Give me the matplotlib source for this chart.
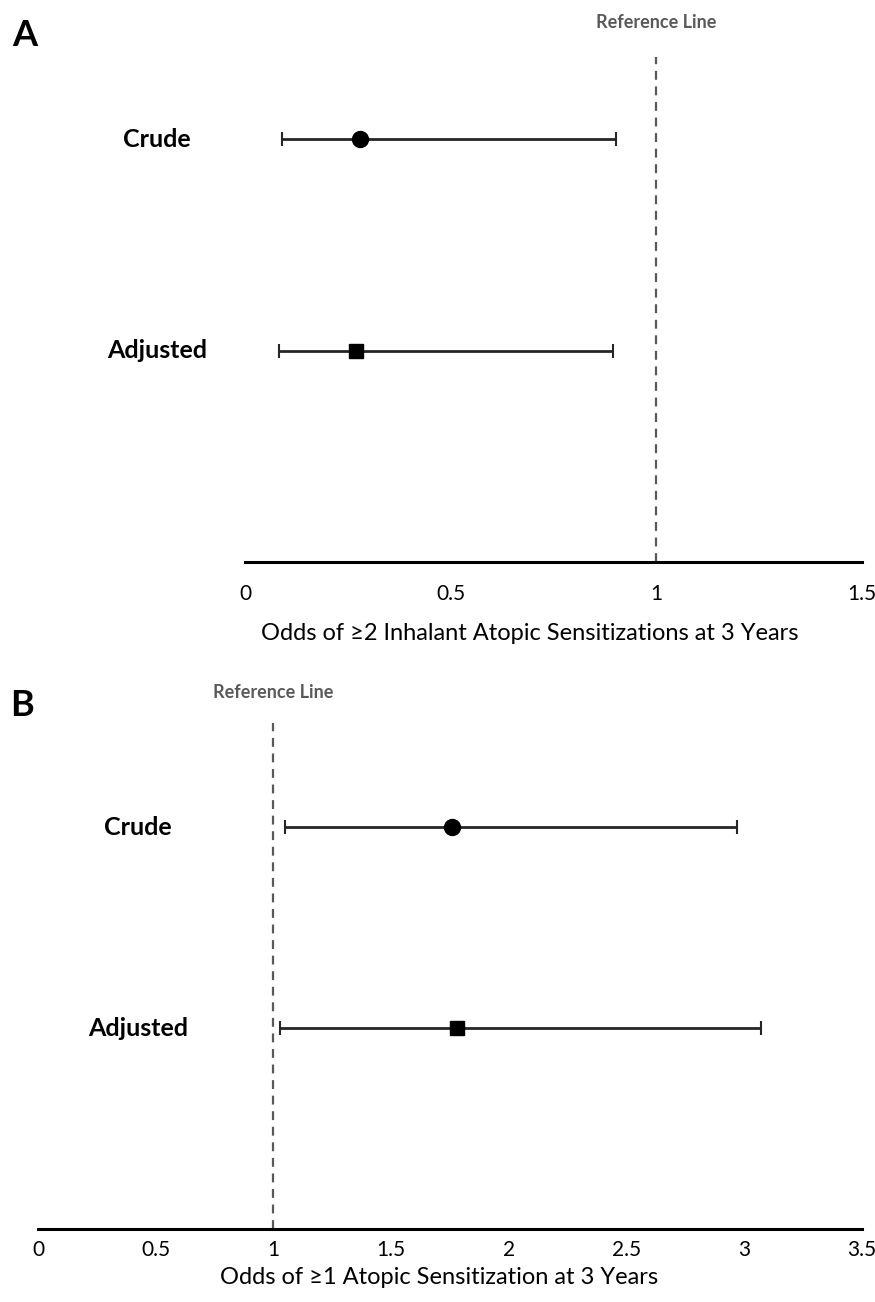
import matplotlib
matplotlib.use("Agg")
import matplotlib.pyplot as plt

plt.rcParams["font.family"] = ["Lato", "DejaVu Sans"]

# Panel A: odds of >=2 inhalant atopic sensitizations
labels = ["Crude", "Adjusted"]
a_or = [0.28, 0.27]
a_lo = [0.09, 0.082]
a_hi = [0.903, 0.894]

# Panel B: odds of >=1 atopic sensitization
b_or = [1.76, 1.78]
b_lo = [1.05, 1.03]
b_hi = [2.97, 3.07]

a_ticks = [0, 0.5, 1, 1.5]
a_ticklabels = ["0", "0.5", "1", "1.5"]
b_ticks = [0, 0.5, 1, 1.5, 2, 2.5, 3, 3.5]
b_ticklabels = ["0", "0.5", "1", "1.5", "2", "2.5", "3", "3.5"]
ref_value = 1.0

W, H = 875, 1302
fig = plt.figure(figsize=(W / 100, H / 100), dpi=100)


def px_axes(left, right, top, bottom):
    return fig.add_axes([left / W, 1 - bottom / H, (right - left) / W, (bottom - top) / H])


def draw_panel(ax, ors, los, his, ticks, ticklabels, xmax, ylim_top, label_x,
               xlabel, label_xy, pad, ref_y):
    ypos = [2, 1]
    markers = ["o", "s"]
    sizes = [11.5, 9.5]
    for y, o, lo, hi, m, s in zip(ypos, ors, los, his, markers, sizes):
        ax.errorbar(o, y, xerr=[[o - lo], [hi - o]], fmt="none", ecolor="#262626",
                    elinewidth=2, capsize=5, capthick=1.5, zorder=2)
        ax.plot(o, y, marker=m, color="black", markersize=s, linestyle="none", zorder=3)
    ax.axvline(ref_value, color="#595959", linestyle=(0, (4, 3)), linewidth=1.6, zorder=1)
    ax.text(ref_value, ref_y, "Reference Line", transform=ax.get_xaxis_transform(),
            ha="center", va="center", fontsize=13, fontweight="bold", color="#595959")
    for y, lab in zip(ypos, labels):
        ax.text(label_x, y, lab, transform=ax.get_yaxis_transform(), ha="center",
                va="center", fontsize=18, fontweight="bold")
    ax.set_xlim(0, xmax)
    ax.set_ylim(0, ylim_top)
    ax.set_xticks(ticks)
    ax.set_xticklabels(ticklabels)
    ax.tick_params(axis="x", length=0, pad=pad, labelsize=15)
    ax.set_yticks([])
    for sp in ["left", "right", "top"]:
        ax.spines[sp].set_visible(False)
    ax.spines["bottom"].set_linewidth(2.2)
    ax.set_xlabel(xlabel, fontsize=17)
    ax.xaxis.set_label_coords(*label_xy)
    ax.set_facecolor("none")


ax_a = px_axes(245, 862, 57, 562)
draw_panel(ax_a, a_or, a_lo, a_hi, a_ticks, a_ticklabels, 1.5, 2.39, -0.143,
           "Odds of \u22652 Inhalant Atopic Sensitizations at 3 Years", (0.462, -0.12), 16,
           (562 - 23) / 505)

ax_b = px_axes(38, 862, 723, 1229)
draw_panel(ax_b, b_or, b_lo, b_hi, b_ticks, b_ticklabels, 3.5, 2.52, 0.121,
           "Odds of \u22651 Atopic Sensitization at 3 Years", (0.487, -0.076), 8,
           (1229 - 693) / 506)

fig.text(12 / W, 1 - 35 / H, "A", fontsize=26, fontweight="bold", va="center", ha="left")
fig.text(10 / W, 1 - 705 / H, "B", fontsize=26, fontweight="bold", va="center", ha="left")

fig.savefig("out.png", dpi=100)
